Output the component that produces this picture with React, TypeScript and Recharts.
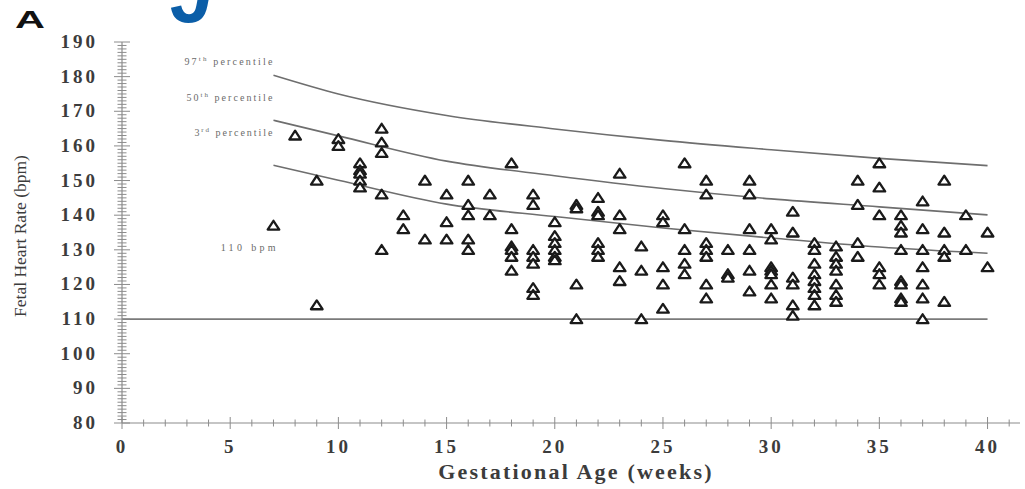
import React from 'react';
import {
  ComposedChart,
  Scatter,
  Line,
  XAxis,
  YAxis,
  ReferenceLine,
  ReferenceDot,
} from 'recharts';

// Gestational week of each group of observations
const obsWeeks = [
  7, 8, 9, 10, 11, 12, 13, 14, 15, 16, 17, 18, 19, 20, 21, 22, 23,
  24, 25, 26, 27, 28, 29, 30, 31, 32, 33, 34, 35, 36, 37, 38, 39, 40,
];

// Fetal heart rate readings (bpm) recorded at each week above
const obsRates = [
  [137],
  [163],
  [150, 114],
  [162, 160],
  [155, 153, 152, 150, 148],
  [165, 161, 158, 146, 130],
  [140, 136],
  [150, 133],
  [146, 138, 133],
  [150, 143, 140, 133, 130],
  [146, 140],
  [155, 136, 131, 130, 128, 124],
  [146, 143, 130, 128, 126, 119, 117],
  [138, 134, 132, 130, 128, 127],
  [143, 142, 120, 110],
  [145, 141, 140, 132, 130, 128],
  [152, 140, 136, 125, 121],
  [131, 124, 110],
  [140, 138, 125, 120, 113],
  [155, 136, 130, 126, 123],
  [150, 146, 132, 130, 128, 120, 116],
  [130, 123, 122],
  [150, 146, 136, 130, 124, 118],
  [136, 133, 125, 124, 123, 120, 116],
  [141, 135, 122, 120, 114, 111],
  [132, 130, 126, 123, 121, 119, 117, 114],
  [131, 128, 126, 124, 120, 117, 115],
  [150, 143, 132, 128],
  [155, 148, 140, 125, 123, 120],
  [140, 137, 135, 130, 121, 120, 116, 115],
  [144, 136, 130, 125, 120, 116, 110],
  [150, 135, 130, 128, 115],
  [140, 130],
  [135, 125],
];

// Reference percentile curves
const curveWeeks = [7, 10, 15, 20, 25, 30, 35, 40];
const p97 = [180.4, 175.0, 168.8, 164.9, 161.6, 158.9, 156.4, 154.3];
const p50 = [167.4, 162.9, 155.6, 151.4, 147.7, 144.7, 142.4, 140.1];
const p3 = [154.4, 150.1, 143.2, 139.6, 136.3, 133.4, 130.8, 129.0];

const thresholdBpm = 110;
const thresholdWeeks = [0, 40];

// Axis ticks
const weekTicks = [
  0, 1, 2, 3, 4, 5, 6, 7, 8, 9, 10, 11, 12, 13, 14, 15, 16, 17, 18, 19, 20,
  21, 22, 23, 24, 25, 26, 27, 28, 29, 30, 31, 32, 33, 34, 35, 36, 37, 38, 39,
  40, 41,
];
const rateTicks: number[] = [];
for (let r = 80; r <= 190; r += 1) rateTicks.push(r);

// Curve annotations
const noteMain = ['97', '50', '3', '110 bpm'];
const noteSup = ['th', 'th', 'rd', ''];
const noteRest = [' percentile', ' percentile', ' percentile', ''];
const noteWeek = [6.95, 6.95, 6.95, 7.1];
const noteRate = [184.2, 173.8, 163.7, 130.5];
const noteWidth = [88, 86, 78, 55];

const points = obsWeeks.flatMap((w, i) =>
  obsRates[i].map((r) => ({ week: w, rate: r }))
);
const toCurve = (vals: number[]) =>
  curveWeeks.map((w, i) => ({ week: w, rate: vals[i] }));

const AXIS = '#8c8c8c';
const SERIF = '"Liberation Serif", "Times New Roman", serif';

const XTick = (props: any) => {
  const { x, y, payload } = props;
  const v = payload.value as number;
  const major = v % 5 === 0;
  const h = major ? 6 : 3.5;
  return (
    <g>
      <line x1={x} x2={x} y1={y - h} y2={y + h} stroke={AXIS} strokeWidth={1} />
      {major && (
        <text
          x={x}
          y={y + 30}
          textAnchor="middle"
          fontFamily={SERIF}
          fontSize={19}
          fontWeight="bold"
          letterSpacing={3}
          fill="#3c3c3c"
        >
          {v}
        </text>
      )}
    </g>
  );
};

const YTick = (props: any) => {
  const { x, y, payload } = props;
  const v = payload.value as number;
  const major = v % 10 === 0;
  const h = major ? 8 : 4.5;
  return (
    <g>
      <line x1={x - h} x2={x + h} y1={y} y2={y} stroke={AXIS} strokeWidth={1} />
      {major && (
        <text
          x={x - 24}
          y={y + 6}
          textAnchor="end"
          fontFamily={SERIF}
          fontSize={19}
          fontWeight="bold"
          letterSpacing={3}
          fill="#3c3c3c"
        >
          {v}
        </text>
      )}
    </g>
  );
};

const Triangle = (props: any) => {
  const { cx, cy } = props;
  if (cx == null || cy == null) return null;
  return (
    <path
      d={`M${cx},${cy - 4.8} L${cx + 5.8},${cy + 4} L${cx - 5.8},${cy + 4} Z`}
      fill="#fff"
      stroke="#1a1a1a"
      strokeWidth={2.3}
      strokeLinejoin="round"
    />
  );
};

const makeNote = (i: number) => (props: any) => {
  const { cx, cy } = props;
  return (
    <text
      x={cx}
      y={cy + 3}
      textAnchor="end"
      fontFamily={SERIF}
      fontSize={10}
      fill="#6a6a6a"
      textLength={noteWidth[i]}
      lengthAdjust="spacing"
    >
      {noteMain[i]}
      {noteSup[i] && (
        <tspan fontSize={7} dy={-4}>
          {noteSup[i]}
        </tspan>
      )}
      {noteRest[i] && <tspan dy={noteSup[i] ? 4 : 0}>{noteRest[i]}</tspan>}
    </text>
  );
};

export default function App() {
  return (
    <div
      style={{
        position: 'absolute',
        left: 0,
        top: 0,
        width: 1025,
        height: 489,
        background: '#fff',
      }}
    >
      <ComposedChart
        width={1025}
        height={489}
        margin={{ top: 42, right: 5, left: 0, bottom: 0 }}
      >
        <XAxis
          dataKey="week"
          type="number"
          domain={[0, 41.5]}
          ticks={weekTicks}
          interval={0}
          tick={<XTick />}
          tickLine={false}
          tickSize={0}
          tickMargin={0}
          height={66}
          axisLine={{ stroke: AXIS, strokeWidth: 1.2 }}
          allowDataOverflow
        />
        <YAxis
          dataKey="rate"
          type="number"
          domain={[80, 190]}
          ticks={rateTicks}
          interval={0}
          tick={<YTick />}
          tickLine={false}
          tickSize={0}
          tickMargin={0}
          width={122}
          axisLine={{ stroke: AXIS, strokeWidth: 1.2 }}
          allowDataOverflow
        />
        <ReferenceLine
          segment={[
            { x: thresholdWeeks[0], y: thresholdBpm },
            { x: thresholdWeeks[1], y: thresholdBpm },
          ]}
          stroke="#7a7a7a"
          strokeWidth={1.6}
        />
        {[p97, p50, p3].map((vals, i) => (
          <Line
            key={i}
            data={toCurve(vals)}
            dataKey="rate"
            type="monotone"
            stroke="#6e6e6e"
            strokeWidth={1.6}
            dot={false}
            activeDot={false}
            isAnimationActive={false}
          />
        ))}
        <Scatter
          data={points}
          dataKey="rate"
          shape={<Triangle />}
          isAnimationActive={false}
        />
        {noteMain.map((_, i) => (
          <ReferenceDot
            key={`n${i}`}
            x={noteWeek[i]}
            y={noteRate[i]}
            r={0}
            shape={makeNote(i)}
          />
        ))}
      </ComposedChart>
      <svg
        width={1025}
        height={489}
        style={{ position: 'absolute', left: 0, top: 0, pointerEvents: 'none' }}
      >
        <text
          x={170}
          y={22}
          fontFamily='"Liberation Sans", Arial, sans-serif'
          fontWeight="bold"
          fontStyle="italic"
          fontSize={78}
          fill="#0b5ea8"
        >
          J
        </text>
        <text
          x={15}
          y={28}
          fontFamily='"Liberation Sans", Arial, sans-serif'
          fontWeight="bold"
          fontSize={24}
          fill="#111"
          textLength={30}
          lengthAdjust="spacingAndGlyphs"
        >
          A
        </text>
        <text
          x={22}
          y={236}
          transform="rotate(-90 22 236)"
          textAnchor="middle"
          dominantBaseline="middle"
          fontFamily={SERIF}
          fontSize={17.5}
          fill="#3c3c3c"
        >
          Fetal Heart Rate (bpm)
        </text>
        <text
          x={576}
          y={479}
          textAnchor="middle"
          fontFamily={SERIF}
          fontSize={22}
          fontWeight="bold"
          letterSpacing={2.2}
          fill="#3c3c3c"
        >
          Gestational Age (weeks)
        </text>
      </svg>
    </div>
  );
}
